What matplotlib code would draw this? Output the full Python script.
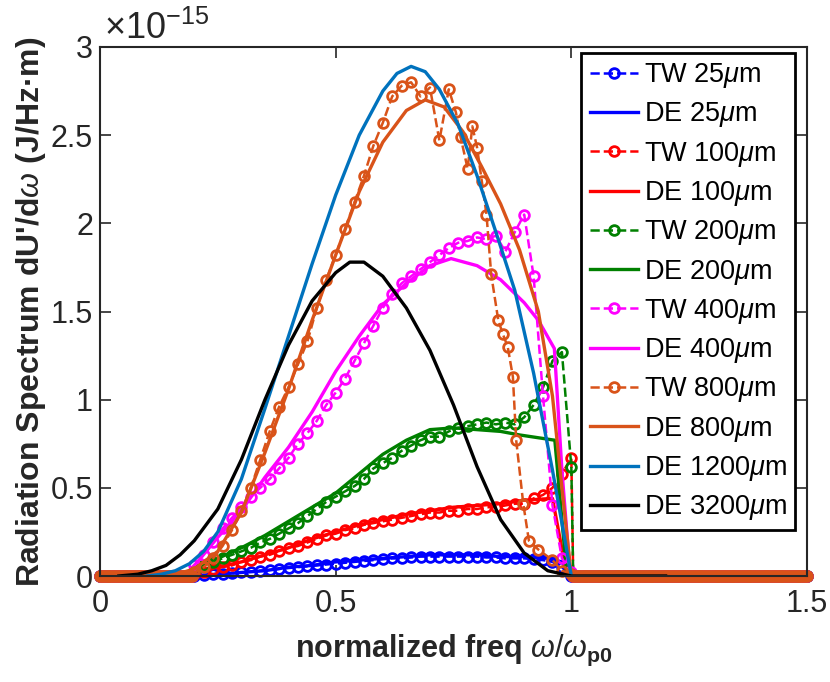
import matplotlib
matplotlib.use("Agg")
import matplotlib.pyplot as plt
from matplotlib.ticker import FuncFormatter
import numpy as np

plt.rcParams["font.family"] = ["Liberation Sans", "DejaVu Sans"]
plt.rcParams["mathtext.fontset"] = "custom"
plt.rcParams["mathtext.rm"] = "Liberation Sans"
plt.rcParams["mathtext.it"] = "Liberation Sans:italic"
plt.rcParams["mathtext.bf"] = "Liberation Sans:bold"

# spectra in units of 1e-15 J/(Hz m)
# sampled TW runs (0.20 .. 1.00 step 0.02), zero tails on both sides
tw_x = [0.20, 0.22, 0.24, 0.26, 0.28, 0.30, 0.32, 0.34, 0.36, 0.38,
        0.40, 0.42, 0.44, 0.46, 0.48, 0.50, 0.52, 0.54, 0.56, 0.58,
        0.60, 0.62, 0.64, 0.66, 0.68, 0.70, 0.72, 0.74, 0.76, 0.78,
        0.80, 0.82, 0.84, 0.86, 0.88, 0.90, 0.92, 0.94, 0.96, 0.98, 1.00]

tw25 = [0.00, 0.005, 0.01, 0.012, 0.015, 0.02, 0.025, 0.03, 0.035, 0.04,
        0.045, 0.05, 0.055, 0.06, 0.065, 0.07, 0.075, 0.08, 0.085, 0.09,
        0.095, 0.10, 0.10, 0.105, 0.11, 0.11, 0.11, 0.11, 0.11, 0.11,
        0.11, 0.105, 0.105, 0.10, 0.10, 0.10, 0.095, 0.09, 0.08, 0.05, 0.00]

tw100 = [0.01, 0.02, 0.04, 0.05, 0.06, 0.08, 0.09, 0.11, 0.12, 0.14,
         0.16, 0.17, 0.19, 0.21, 0.23, 0.24, 0.26, 0.27, 0.29, 0.30,
         0.31, 0.32, 0.33, 0.34, 0.35, 0.36, 0.36, 0.37, 0.37, 0.38,
         0.38, 0.39, 0.39, 0.40, 0.41, 0.41, 0.44, 0.46, 0.50, 0.58, 0.67]

tw200 = [0.03, 0.06, 0.08, 0.10, 0.12, 0.14, 0.16, 0.19, 0.21, 0.24,
         0.27, 0.30, 0.34, 0.38, 0.42, 0.45, 0.48, 0.51, 0.55, 0.61,
         0.64, 0.67, 0.71, 0.74, 0.77, 0.79, 0.79, 0.82, 0.84, 0.85,
         0.86, 0.87, 0.86, 0.87, 0.86, 0.90, 0.97, 1.07, 1.22, 1.27, 0.62]

tw400 = [0.06, 0.12, 0.19, 0.27, 0.33, 0.39, 0.45, 0.50, 0.55, 0.61,
         0.67, 0.75, 0.81, 0.88, 0.97, 1.04, 1.12, 1.22, 1.32, 1.42,
         1.52, 1.60, 1.66, 1.70, 1.74, 1.78, 1.82, 1.86, 1.89, 1.90,
         1.92, 1.91, 1.93, 1.84, 1.95, 2.05, 1.70, 1.02, 0.40, 0.10, 0.02]

tw800_x = [0.20, 0.22, 0.24, 0.26, 0.28, 0.30, 0.32, 0.34, 0.36, 0.38,
           0.40, 0.42, 0.44, 0.46, 0.48, 0.50, 0.52, 0.54, 0.56, 0.58,
           0.60, 0.62, 0.64, 0.66, 0.68, 0.70, 0.72, 0.74, 0.755, 0.765,
           0.78, 0.79, 0.80, 0.81, 0.82, 0.83, 0.845, 0.855, 0.865, 0.876,
           0.883, 0.898, 0.91, 0.93, 0.96, 0.98, 1.00]
tw800 = [0.02, 0.05, 0.10, 0.17, 0.26, 0.37, 0.50, 0.66, 0.82, 0.96,
         1.07, 1.20, 1.33, 1.52, 1.68, 1.82, 1.97, 2.12, 2.27, 2.44,
         2.57, 2.72, 2.78, 2.80, 2.72, 2.77, 2.47, 2.76, 2.63, 2.49,
         2.31, 2.55, 2.43, 2.24, 2.05, 1.71, 1.45, 1.37, 1.30, 1.13,
         0.77, 0.41, 0.20, 0.15, 0.09, 0.03, 0.01]

# DE model curves
de25_x = [0.18, 0.25, 0.30, 0.35, 0.40, 0.45, 0.50, 0.55, 0.60, 0.65,
          0.70, 0.75, 0.80, 0.85, 0.90, 0.95, 0.98, 1.00]
de25 = [0.00, 0.01, 0.02, 0.03, 0.05, 0.06, 0.08, 0.09, 0.10, 0.11,
        0.12, 0.12, 0.12, 0.11, 0.11, 0.10, 0.08, 0.00]

de100_x = [0.18, 0.20, 0.25, 0.30, 0.35, 0.40, 0.45, 0.50, 0.55, 0.60,
           0.65, 0.70, 0.75, 0.80, 0.85, 0.90, 0.96, 0.99]
de100 = [0.00, 0.02, 0.05, 0.08, 0.12, 0.16, 0.21, 0.25, 0.29, 0.32,
         0.35, 0.37, 0.39, 0.40, 0.41, 0.43, 0.44, 0.01]

de200_x = [0.18, 0.20, 0.25, 0.30, 0.35, 0.40, 0.45, 0.50, 0.55, 0.60,
           0.65, 0.70, 0.75, 0.80, 0.85, 0.89, 0.94, 0.965, 0.99]
de200 = [0.00, 0.05, 0.10, 0.16, 0.23, 0.31, 0.39, 0.47, 0.58, 0.69,
         0.77, 0.83, 0.84, 0.83, 0.82, 0.80, 0.78, 0.77, 0.02]

de400_x = [0.18, 0.21, 0.25, 0.30, 0.35, 0.40, 0.45, 0.50, 0.55, 0.60,
           0.65, 0.70, 0.745, 0.80, 0.85, 0.90, 0.93, 0.964, 0.98, 0.997]
de400 = [0.00, 0.09, 0.22, 0.37, 0.56, 0.73, 0.93, 1.16, 1.36, 1.54,
         1.66, 1.76, 1.80, 1.76, 1.68, 1.55, 1.45, 1.29, 0.60, 0.03]

de800_x = [0.15, 0.20, 0.25, 0.30, 0.35, 0.40, 0.45, 0.50, 0.55, 0.60,
           0.65, 0.69, 0.73, 0.77, 0.81, 0.85, 0.89, 0.93, 0.96, 0.98, 1.00]
de800 = [0.00, 0.04, 0.14, 0.36, 0.70, 1.06, 1.45, 1.82, 2.18, 2.46,
         2.64, 2.70, 2.66, 2.52, 2.32, 2.11, 1.85, 1.50, 1.02, 0.50, 0.00]

de1200_x = [0.10, 0.13, 0.16, 0.19, 0.22, 0.25, 0.30, 0.35, 0.40, 0.45,
            0.50, 0.55, 0.60, 0.63, 0.66, 0.69, 0.72, 0.76, 0.80, 0.84,
            0.88, 0.92, 0.96, 1.00]
de1200 = [0.00, 0.01, 0.03, 0.07, 0.14, 0.25, 0.55, 0.95, 1.36, 1.77,
          2.16, 2.50, 2.75, 2.85, 2.89, 2.86, 2.76, 2.56, 2.27, 1.95,
          1.62, 1.15, 0.60, 0.00]

de3200_x = [0.04, 0.08, 0.11, 0.14, 0.17, 0.20, 0.25, 0.30, 0.35, 0.40,
            0.45, 0.50, 0.53, 0.56, 0.60, 0.65, 0.70, 0.75, 0.80, 0.85,
            0.90, 0.95, 1.00, 1.20]
de3200 = [0.00, 0.01, 0.03, 0.06, 0.12, 0.20, 0.38, 0.66, 1.00, 1.31,
          1.56, 1.72, 1.78, 1.78, 1.70, 1.52, 1.28, 0.97, 0.62, 0.32,
          0.13, 0.03, 0.00, 0.00]

tail_lo = np.arange(0.0, 0.2, 0.004)
tail_hi = np.arange(1.004, 1.5001, 0.004)

c_blue = "#0000FF"
c_red = "#FF0000"
c_green = "#008000"
c_mag = "#FF00FF"
c_orange = "#D95319"
c_mblue = "#0072BD"


def with_tails(xs, ys):
    x = np.concatenate([tail_lo, xs, tail_hi])
    y = np.concatenate([np.zeros(len(tail_lo)), ys, np.zeros(len(tail_hi))])
    return x, y


fig = plt.figure(figsize=(8.3, 6.82), dpi=100)
ax = fig.add_axes([100 / 830, 106 / 682, 707 / 830, 529 / 682])

tw_kw = dict(ls="--", marker="o", mfc="none", ms=7, mew=2, lw=1.8,
             clip_on=False)
de_kw = dict(ls="-", lw=2.4)

series = [
    ("tw", tw_x, tw25, c_blue, r"TW 25$\mathit{\mu}$m"),
    ("de", de25_x, de25, c_blue, r"DE 25$\mathit{\mu}$m"),
    ("tw", tw_x, tw100, c_red, r"TW 100$\mathit{\mu}$m"),
    ("de", de100_x, de100, c_red, r"DE 100$\mathit{\mu}$m"),
    ("tw", tw_x, tw200, c_green, r"TW 200$\mathit{\mu}$m"),
    ("de", de200_x, de200, c_green, r"DE 200$\mathit{\mu}$m"),
    ("tw", tw_x, tw400, c_mag, r"TW 400$\mathit{\mu}$m"),
    ("de", de400_x, de400, c_mag, r"DE 400$\mathit{\mu}$m"),
    ("tw", tw800_x, tw800, c_orange, r"TW 800$\mathit{\mu}$m"),
    ("de", de800_x, de800, c_orange, r"DE 800$\mathit{\mu}$m"),
    ("de", de1200_x, de1200, c_mblue, r"DE 1200$\mathit{\mu}$m"),
    ("de", de3200_x, de3200, "black", r"DE 3200$\mathit{\mu}$m"),
]

for kind, xs, ys, col, lab in series:
    if kind == "tw":
        x, y = with_tails(xs, ys)
        ax.plot(x, y, color=col, label=lab, **tw_kw)
    else:
        ax.plot(xs, ys, color=col, label=lab, **de_kw)

ax.set_xlim(0, 1.5)
ax.set_ylim(0, 3)
ax.set_xticks([0, 0.5, 1, 1.5])
ax.set_yticks([0, 0.5, 1, 1.5, 2, 2.5, 3])
fmt = FuncFormatter(lambda v, p: f"{v:g}")
ax.xaxis.set_major_formatter(fmt)
ax.yaxis.set_major_formatter(fmt)
ax.tick_params(direction="in", length=8, width=1.2, top=True, right=True,
               labelsize=22, colors="#262626", pad=5)
ax.tick_params(axis="x", pad=9)
for sp in ax.spines.values():
    sp.set_linewidth(1.5)
    sp.set_color("#262626")

ax.text(0.005, 1.0, r"$\times\mathregular{10^{-15}}$", transform=ax.transAxes,
        fontsize=26, ha="left", va="bottom", color="#262626")

ax.set_xlabel(r"normalized freq $\omega/\omega_{\mathbf{p0}}$",
              fontsize=22, fontweight="bold", color="#262626", labelpad=10)
ax.set_ylabel(r"Radiation Spectrum dU'/d$\omega$ (J/Hz·m)",
              fontsize=23, fontweight="bold", color="#262626", labelpad=2)

leg = ax.legend(loc="upper right", bbox_to_anchor=(795 / 830, 1 - 53 / 682),
                bbox_transform=fig.transFigure, borderaxespad=0,
                fontsize=19.5, handlelength=1.8, handletextpad=0.2,
                labelspacing=0.38, borderpad=0.3, fancybox=False,
                framealpha=1, edgecolor="black", numpoints=1)
leg.get_frame().set_linewidth(2)
leg.set_zorder(10)

fig.savefig("out.png", dpi=100)
